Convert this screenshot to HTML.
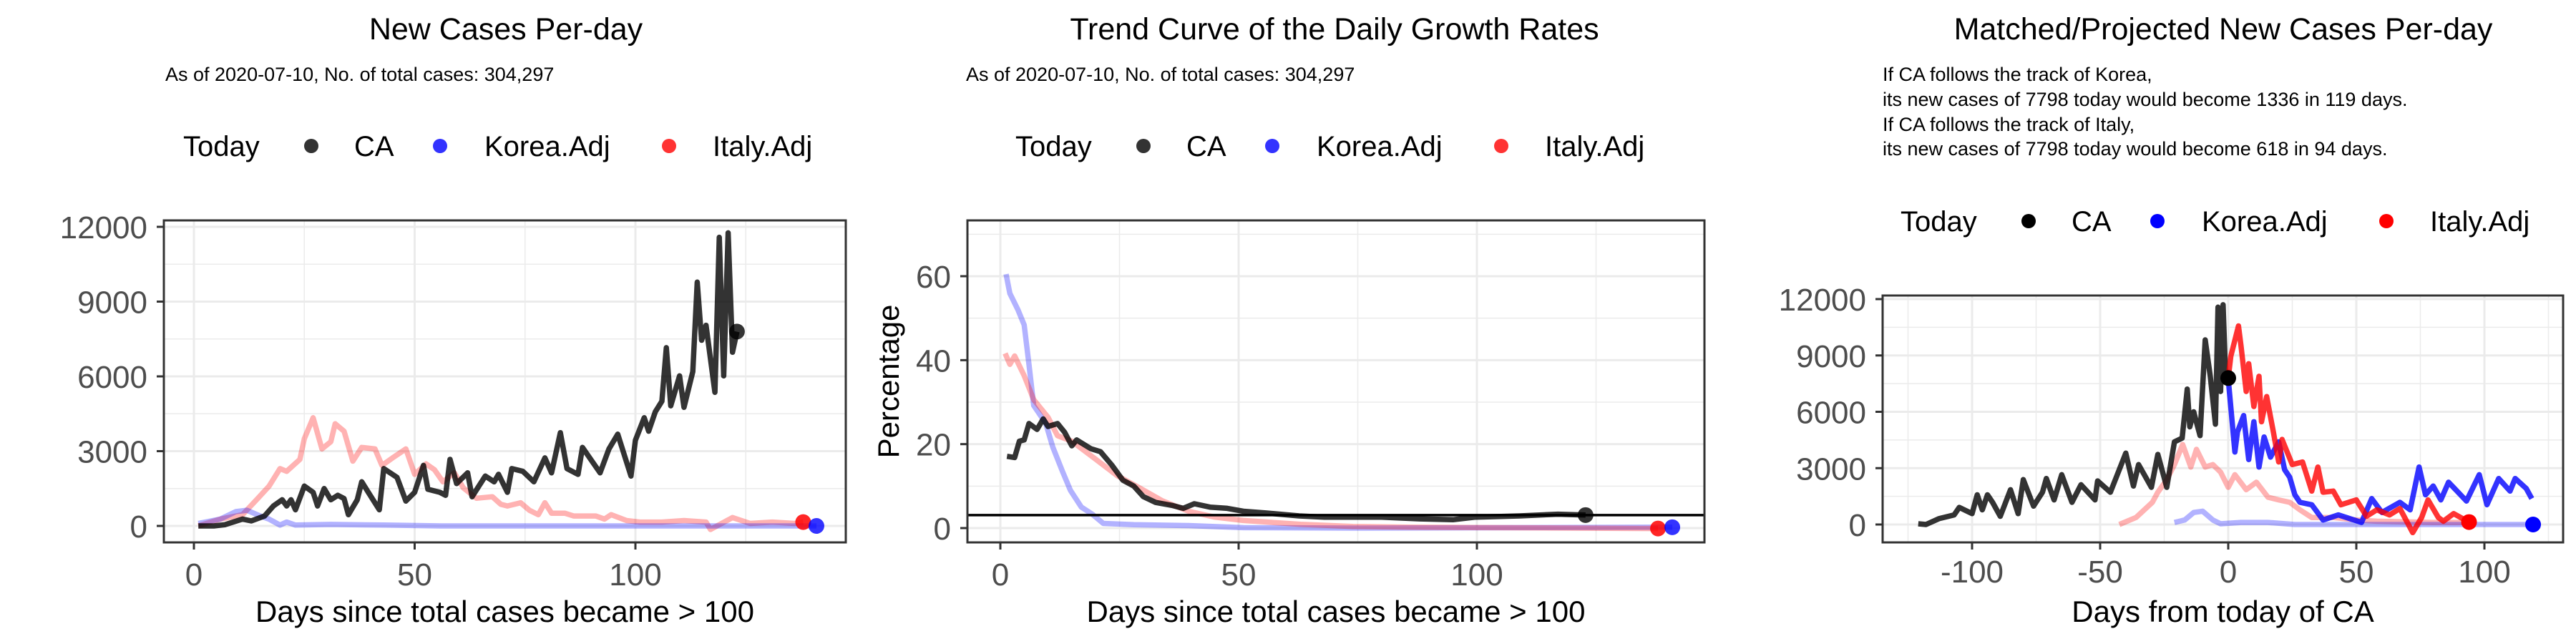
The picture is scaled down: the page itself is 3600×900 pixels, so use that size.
<!DOCTYPE html>
<html><head><meta charset="utf-8">
<style>
html,body{margin:0;padding:0;background:#fff;}
svg{display:block;font-family:"Liberation Sans",Arial,sans-serif;}
</style></head>
<body>
<svg id="chart" width="3600" height="900" viewBox="0 0 3600 900" xmlns="http://www.w3.org/2000/svg">
<rect x="0" y="0" width="3600" height="900" fill="#fff"/>
<text x="707" y="55" font-size="43" text-anchor="middle">New Cases Per-day</text>
<text x="231" y="113" font-size="27">As of 2020-07-10, No. of total cases: 304,297</text>
<text x="1865" y="55" font-size="43" text-anchor="middle">Trend Curve of the Daily Growth Rates</text>
<text x="1350" y="113" font-size="27">As of 2020-07-10, No. of total cases: 304,297</text>
<text x="3107" y="55" font-size="43" text-anchor="middle">Matched/Projected New Cases Per-day</text>
<g font-size="27">
<text x="2631" y="113">If CA follows the track of Korea,</text>
<text x="2631" y="148">its new cases of 7798 today would become 1336 in 119 days.</text>
<text x="2631" y="183">If CA follows the track of Italy,</text>
<text x="2631" y="217">its new cases of 7798 today would become 618 in 94 days.</text>
</g>
<g id="layer"></g>
</svg>
<script>
// ---- Panel 1 data: new cases per day ----
const p1CaDays=[1,4.5,7,11,13,16,18,20,21,22,23,25,27,28,29.5,31,32.6,34,35,37,38,39.5,42,43,46,48,50,52,53,55.7,57,58,59.5,62,63,66,68,69,71,72,74.5,77,79.5,81,83,84.5,87,88,92,94,96,99,100,102,103,104.5,106,107,108,110,111,113,114,115,116,118,119,120,121,122,123];
const p1CaVals=[0,0,50,275,200,400,800,1050,800,1050,650,1600,1350,800,1500,1050,1230,1100,450,1050,1770,1350,650,2300,1950,1000,1350,2430,1470,1350,1230,2670,1700,2130,1170,2000,1770,2070,1350,2300,2190,1770,2730,2130,3740,2300,2070,3150,2130,3090,3680,2000,3440,4340,3800,4580,5000,7150,4820,6020,4760,6190,9780,7450,8050,5360,11580,6020,11760,6970,7790];
const p1ItDays=[1,6,11,14.5,17,19.5,21,24,25,27,29,31,32,34,36,38,41,42.6,45,48,50,52.6,54.5,56.4,59,61,64,67.6,69.5,71,74,76,78,79.5,81,84,86,91,93,94.5,98,101,106,111,116,117,122,126,131,136,138];
const p1ItVals=[0,275,450,1110,1590,2300,2190,2670,3500,4340,3090,3380,4100,3800,2600,3150,3090,2430,2730,3090,2070,2490,2250,1770,2130,1530,1110,1170,870,800,930,630,450,930,510,510,400,400,275,450,215,155,155,215,155,-140,335,100,155,100,155];
const p1KoDays=[1,6,9.5,12,15,17,19.5,21,23,31,43,56,100,141];
const p1KoVals=[100,275,575,630,400,275,35,155,35,60,35,0,0,0];
const p1YTicks=[0,3000,6000,9000,12000];
const p1XTicks=[0,50,100];
// ---- Panel 2 data: growth rates (%) ----
const p2CaDays=[1.4,3,4,5,6,7.7,9,10,12,13.5,15,16,19,21,23.4,25.7,28,30,32.6,36,38.4,40.7,44,47.6,51,55.7,62.7,68,80,88,95,99.7,109,117,122.8];
const p2CaVals=[17.1,16.8,20.7,21,24.9,23.5,26,24.2,24.9,22.8,19.6,21,18.9,18.2,15,11.4,10,7.5,6.1,5.4,4.7,5.8,5,4.7,4,3.6,2.9,2.6,2.6,2.2,2.0,2.6,2.9,3.3,3.1];
const p2KoDays=[1.2,2,3.7,5,6,7,9.5,11,13,14.7,17,19.3,21.6,28,39.5,51,74,141];
const p2KoVals=[60.5,55.9,52,48.4,39,29.2,25,19.3,13.6,9,5,3.3,1.1,0.8,0.6,0.1,0,0.2];
const p2ItDays=[1,2,3,5,7,10,12,15,20,24.5,29,34,39.5,45,51,63,74,86,138];
const p2ItVals=[41.6,39,41,36.3,30.6,26.4,22,20.7,16.4,12.5,9.7,6.5,4,2.6,1.8,0.9,0.4,0.2,-0.1];
const p2RefLine=[3.1];
const p2YTicks=[0,20,40,60];
const p2XTicks=[0,50,100];
// ---- Panel 3 data: matched / projected ----
const p3CaDays=[-121,-118,-113,-107,-105,-100,-98,-96,-94,-92,-89,-85,-82,-80,-76,-72.5,-71,-68,-65,-61,-57.5,-52,-51,-46,-40,-37,-35,-30,-27.5,-24,-21,-18,-16,-15,-13.5,-11,-9,-7,-5,-4,-3,-2,-1,0];
const p3CaVals=[40,0,310,510,910,580,1580,780,1580,1180,440,1850,580,2390,980,1720,2450,1310,2650,1180,2120,1310,2320,1720,3800,2050,3190,1980,3730,1980,4400,4600,7210,5200,6000,4730,9830,7890,5340,11570,7080,11700,7820,7798];
const p3ItDays=[0,1,4,5,7,8,10,12,13,15,17.6,19.7,21,25,29,32.6,35,37,41,44,50,54,58,63,67,72,75.5,78,82,84,88,94];
const p3ItVals=[7798,8960,10570,9490,7080,8560,6280,7890,5470,6810,4940,3330,4530,3190,3330,1780,3060,1720,1780,1050,1310,440,780,510,850,-430,375,1310,375,175,580,130];
const p3KoDays=[0,2.6,3.6,6,8,10,12,14,16.5,19.7,22,24,26,28,32.6,37,43,52,56,60,67,71,74.5,77,80,83,86,93,98,101,105.6,110,112,116.3,118.5];
const p3KoVals=[7750,3860,4930,5800,3460,5470,3060,4660,3590,4400,2920,2520,1580,1180,1050,240,510,110,1380,640,1180,780,3060,1580,2050,1310,2250,1250,2650,1050,2450,1780,2450,1920,1380];
const p3ItRawDays=[-42.5,-36,-29.6,-27.5,-24,-21,-17.8,-14.6,-12.4,-9,-6,-3,0,2.6,7,11,15.5,19.7,24,28,32.6,41,50,58,80,93];
const p3ItRawVals=[0,375,1180,1720,2390,3190,4260,3060,4000,3060,3190,2790,1980,2650,1850,2250,1450,1310,1180,780,375,375,240,175,110,110];
const p3KoRawDays=[-21,-17,-13.5,-10,-6,-3,5,15.5,26,118.5];
const p3KoRawVals=[110,240,640,710,240,40,110,110,0,0];
const p3YTicks=[0,3000,6000,9000,12000];
const p3XTicks=[-100,-50,0,50,100];

const NS="http://www.w3.org/2000/svg";
const layer=document.getElementById('layer');
function mk(tag,attrs,parent){const e=document.createElementNS(NS,tag);for(const k in attrs)e.setAttribute(k,attrs[k]);(parent||layer).appendChild(e);return e;}
function lin(d0,p0,d1,p1){return v=>p0+(v-d0)*(p1-p0)/(d1-d0);}

function panel(cfg){
  const g=mk('g',{});
  
  
  const {L,R,T,B,sx,sy}=cfg;
  mk('rect',{x:L,y:T,width:R-L,height:B-T,fill:'#fff'},g);
  const grid=mk('g',{},g);
  
  
  cfg.xMinor.forEach(v=>{const x=sx(v);if(x>L&&x<R)mk('line',{x1:x,x2:x,y1:T,y2:B,stroke:'#ebebeb','stroke-width':1.5},grid);});
  cfg.yMinor.forEach(v=>{const y=sy(v);if(y>T&&y<B)mk('line',{x1:L,x2:R,y1:y,y2:y,stroke:'#ebebeb','stroke-width':1.5},grid);});
  cfg.xTicks.forEach(v=>{const x=sx(v);mk('line',{x1:x,x2:x,y1:T,y2:B,stroke:'#ebebeb','stroke-width':3},grid);});
  cfg.yTicks.forEach(v=>{const y=sy(v);mk('line',{x1:L,x2:R,y1:y,y2:y,stroke:'#ebebeb','stroke-width':3},grid);});
  const clipId='clip'+cfg.name;
  const cp=mk('clipPath',{id:clipId},g);mk('rect',{x:L,y:T,width:R-L,height:B-T},cp);
  const plot=mk('g',{'clip-path':'url(#'+clipId+')'},g);
  cfg.series.forEach(s=>{
    const d=s.days.map((v,i)=>(i?'L':'M')+sx(v).toFixed(1)+','+sy(s.vals[i]).toFixed(1)).join('');
    const p=mk('path',{d:d,fill:'none',stroke:s.color,'stroke-opacity':s.op,'stroke-width':s.w||7.5,'stroke-linejoin':'round'},plot);
    
    
  });
  (cfg.hlines||[]).forEach(v=>{const l=mk('line',{x1:L,x2:R,y1:sy(v),y2:sy(v),stroke:'#000','stroke-width':3.5},plot);
    
    });
  cfg.points.forEach(pt=>{const c=mk('circle',{cx:sx(pt.d),cy:sy(pt.v),r:11,fill:pt.color,'fill-opacity':pt.op||1},plot);
    
    });
  mk('rect',{x:L,y:T,width:R-L,height:B-T,fill:'none',stroke:'#333','stroke-width':3},g);
  cfg.yTicks.forEach(v=>{const y=sy(v);mk('line',{x1:L-10,x2:L,y1:y,y2:y,stroke:'#333','stroke-width':3},g);
    const t=mk('text',{x:L-23,y:y+16,'font-size':44,fill:'#4d4d4d','text-anchor':'end'},g);t.textContent=v;
    
    });
  cfg.xTicks.forEach(v=>{const x=sx(v);mk('line',{x1:x,x2:x,y1:B,y2:B+10,stroke:'#333','stroke-width':3},g);
    const t=mk('text',{x:x,y:cfg.xLabY,'font-size':44,fill:'#4d4d4d','text-anchor':'middle'},g);t.textContent=v;
    
    });
  const xt=mk('text',{x:(L+R)/2,y:869,'font-size':42,'text-anchor':'middle'},g);xt.textContent=cfg.xTitle;
  
  
  if(cfg.yTitle){const yt=mk('text',{x:0,y:0,'font-size':42,'text-anchor':'middle',transform:'translate(1256,533) rotate(-90)'},g);yt.textContent=cfg.yTitle;
    
    }
  const lg=mk('g',{},g);
  
  
  const lx=cfg.legX, ly=cfg.legY;
  const items=[['Today',null],['CA',cfg.legCols[0]],['Korea.Adj',cfg.legCols[1]],['Italy.Adj',cfg.legCols[2]]];
  const offs=[[0,null],[239,179],[421,359],[740,679]];
  items.forEach((it,i)=>{
    if(it[1]){const c=mk('circle',{cx:lx+offs[i][1],cy:ly-14,r:10,fill:it[1]},lg);
      
      }
    const t=mk('text',{x:lx+offs[i][0],y:ly,'font-size':40},lg);t.textContent=it[0];
    
    
  });
}
const minor=(a,b,s)=>{const r=[];for(let v=a;v<=b;v+=s)r.push(v);return r;};

panel({name:'panel1',L:229,R:1182,T:308,B:758,sx:lin(0,271,100,888),sy:lin(0,735,12000,317),
  xTicks:p1XTicks,yTicks:p1YTicks,xMinor:minor(-25,150,50),yMinor:minor(-1500,13500,3000),xLabY:818,
  xTitle:'Days since total cases became > 100',legX:256,legY:218,legCols:['#333','#3333ff','#ff3333'],
  series:[{name:'italy-adj-line',days:p1ItDays,vals:p1ItVals,color:'#ff0000',op:0.3},
          {name:'korea-adj-line',days:p1KoDays,vals:p1KoVals,color:'#0000ff',op:0.3},
          {name:'ca-line',days:p1CaDays,vals:p1CaVals,color:'#000',op:0.8}],
  points:[{name:'ca-today-point',d:123,v:7798,color:'#000',op:0.8},{name:'italy-today-point',d:138,v:155,color:'#ff0000',op:0.85},{name:'korea-today-point',d:141,v:0,color:'#0000ff',op:0.8}]});

panel({name:'panel2',L:1352,R:2382,T:308,B:758,sx:lin(0,1398,100,2064),sy:lin(0,738,60,386),
  xTicks:p2XTicks,yTicks:p2YTicks,xMinor:minor(-25,150,50),yMinor:minor(-10,80,20),xLabY:818,
  xTitle:'Days since total cases became > 100',yTitle:'Percentage',legX:1419,legY:218,legCols:['#333','#3333ff','#ff3333'],
  hlines:p2RefLine,
  series:[{name:'korea-growth-line',days:p2KoDays,vals:p2KoVals,color:'#0000ff',op:0.3},
          {name:'italy-growth-line',days:p2ItDays,vals:p2ItVals,color:'#ff0000',op:0.3},
          {name:'ca-growth-line',days:p2CaDays,vals:p2CaVals,color:'#000',op:0.8}],
  points:[{name:'ca-today-point',d:122.8,v:3.1,color:'#000',op:0.8},{name:'italy-today-point',d:138,v:-0.1,color:'#ff0000',op:0.85},{name:'korea-today-point',d:141,v:0.2,color:'#0000ff',op:0.8}]});

panel({name:'panel3',L:2631,R:3582,T:413,B:758,sx:lin(0,3114,100,3472),sy:lin(0,733,12000,418),
  xTicks:p3XTicks,yTicks:p3YTicks,xMinor:minor(-125,150,50),yMinor:minor(-1500,13500,3000),xLabY:814,
  xTitle:'Days from today of CA',legX:2656,legY:323,legCols:['#000','#0000ff','#ff0000'],
  series:[{name:'italy-raw-line',days:p3ItRawDays,vals:p3ItRawVals,color:'#ff0000',op:0.3},
          {name:'korea-raw-line',days:p3KoRawDays,vals:p3KoRawVals,color:'#0000ff',op:0.3},
          {name:'ca-matched-line',days:p3CaDays,vals:p3CaVals,color:'#000',op:0.8},
          {name:'korea-projected-line',days:p3KoDays,vals:p3KoVals,color:'#0000ff',op:0.8},
          {name:'italy-projected-line',days:p3ItDays,vals:p3ItVals,color:'#ff0000',op:0.8}],
  points:[{name:'ca-today-point',d:0,v:7798,color:'#000'},{name:'italy-end-point',d:94,v:130,color:'#ff0000'},{name:'korea-end-point',d:119,v:0,color:'#0000ff'}]});
</script>
</body></html>
